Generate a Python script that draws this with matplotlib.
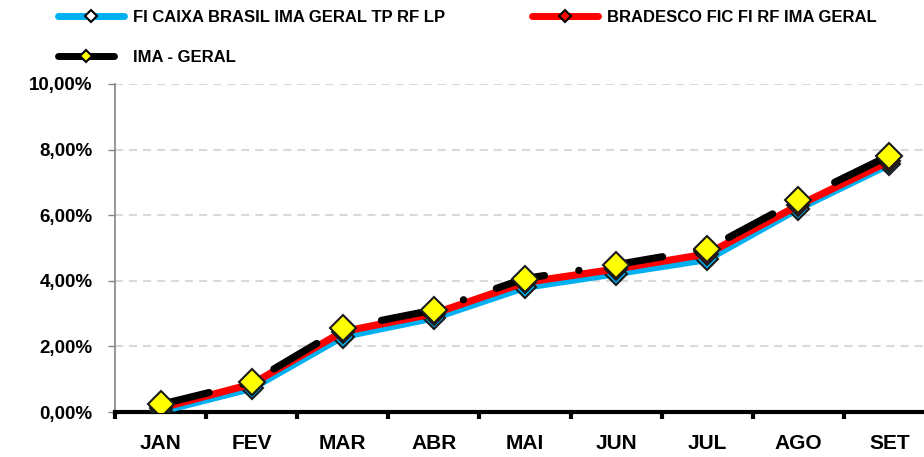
import matplotlib
matplotlib.use('Agg')
import numpy as np
import matplotlib.pyplot as plt
from matplotlib.lines import Line2D
from matplotlib.ticker import FuncFormatter

# dados (% acumulado no ano)
meses = ['JAN', 'FEV', 'MAR', 'ABR', 'MAI', 'JUN', 'JUL', 'AGO', 'SET']
caixa = [0.02, 0.72, 2.30, 2.87, 3.80, 4.22, 4.65, 6.20, 7.55]
bradesco = [0.12, 0.85, 2.45, 3.00, 3.95, 4.36, 4.82, 6.30, 7.65]
ima = [0.23, 0.91, 2.56, 3.11, 4.07, 4.49, 4.97, 6.46, 7.82]

nomes = ['FI CAIXA BRASIL IMA GERAL TP RF LP',
         'BRADESCO FIC FI RF IMA GERAL',
         'IMA - GERAL']

AZUL = '#00b0f0'
VERMELHO = '#ff0000'
AMARELO = '#ffff00'

plt.rcParams['font.family'] = ['Liberation Sans', 'DejaVu Sans']
plt.rcParams['font.weight'] = 'bold'
plt.rcParams['lines.scale_dashes'] = False

W, H = 924, 457
fig = plt.figure(figsize=(W / 100, H / 100), dpi=100)
ax = fig.add_axes([115 / W, 1 - 412 / H, 820 / W, 328 / H])

x = np.arange(len(meses))
ax.plot(x, caixa, color=AZUL, lw=5.2, solid_joinstyle='round', solid_capstyle='round',
        marker='D', ms=11, mfc=AZUL, mec='#1a1a1a', mew=1.5, zorder=3)
ax.plot(x, bradesco, color=VERMELHO, lw=5.2, solid_joinstyle='round', solid_capstyle='round',
        marker='D', ms=11, mfc=VERMELHO, mec='#1a1a1a', mew=1.5, zorder=4)
ax.plot(x, ima, color='black', lw=5.2, ls=(0, (36, 25, 0.1, 25)), dash_capstyle='round',
        marker='D', ms=13.5, mfc=AMARELO, mec='#1a1a1a', mew=1.5, zorder=5)

ax.set_xlim(-0.5, len(meses) - 0.5)
ax.set_ylim(0, 10)

ax.set_yticks(np.arange(0, 10.1, 2))
ax.yaxis.set_major_formatter(FuncFormatter(lambda v, p: f'{v:.2f}'.replace('.', ',') + '%'))
ax.tick_params(axis='y', length=5, width=1, color='#868686', pad=11, labelsize=13.5)
ax.yaxis.grid(True, color='#d9d9d9', lw=1.5, ls=(0, (5.8, 4.3)))
ax.set_axisbelow(True)

ax.set_xticks(np.arange(-0.5, len(meses), 1))
ax.set_xticklabels([])
ax.set_xticks(x, minor=True)
ax.set_xticklabels(meses, minor=True)
ax.tick_params(axis='x', which='major', length=5, width=3, color='black')
ax.tick_params(axis='x', which='minor', length=0, pad=16, labelsize=15)

for s in ['top', 'right']:
    ax.spines[s].set_visible(False)
ax.spines['left'].set_color('#868686')
ax.spines['left'].set_linewidth(1.2)
ax.spines['bottom'].set_color('black')
ax.spines['bottom'].set_linewidth(3)


def legenda(cor, mfc, nome, x0, yc, comp, gap):
    h = Line2D([], [], color=cor, lw=5, solid_capstyle='round',
               marker='D', ms=6, mfc=mfc, mec='black', mew=1.5)
    lg = fig.legend([h], [nome], loc='center left',
                    bbox_to_anchor=(x0 / W, 1 - yc / H), frameon=False,
                    borderpad=0, borderaxespad=0, fontsize=12,
                    handlelength=comp / 1.389 / 12, handletextpad=gap / 1.389 / 12)
    return lg


legenda(AZUL, 'white', nomes[0], 58.5, 17, 66, 8.5)
legenda(VERMELHO, VERMELHO, nomes[1], 531.5, 17, 67, 8.5)
legenda('black', AMARELO, nomes[2], 58.5, 57, 56, 18.5)

fig.savefig('out.png', dpi=100)
